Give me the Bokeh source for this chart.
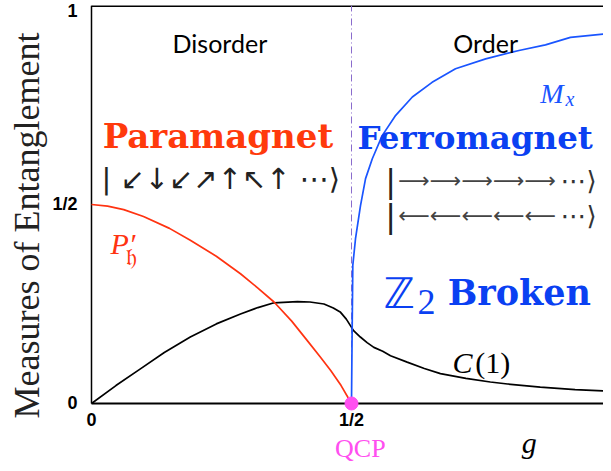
from bokeh.plotting import figure
from bokeh.models import FixedTicker, Label
from bokeh.embed import file_html
from bokeh.resources import INLINE

# ---- data ----
g_p = [0.0, 0.031, 0.062, 0.1, 0.15, 0.19, 0.24, 0.2865, 0.32, 0.351, 0.385, 0.415, 0.44,
       0.46, 0.48, 0.5]
p_h = [0.5, 0.496, 0.487, 0.47, 0.44, 0.41, 0.37, 0.326, 0.29, 0.255, 0.207, 0.158, 0.117,
       0.083, 0.045, 0.0]

g_m = [0.5, 0.501, 0.502, 0.5025, 0.5077, 0.5173, 0.527, 0.540, 0.559, 0.585, 0.617, 0.655,
       0.700, 0.758, 0.822, 0.873, 0.921, 1.0]
m_x = [0.0, 0.15, 0.28, 0.347, 0.414, 0.497, 0.565, 0.615, 0.673, 0.724, 0.770, 0.807,
       0.841, 0.866, 0.887, 0.901, 0.920, 0.930]

g_c = [0.0, 0.047, 0.094, 0.14, 0.19, 0.24, 0.2865, 0.32, 0.351, 0.396, 0.42, 0.447, 0.465,
       0.479, 0.49, 0.504, 0.517, 0.53, 0.543, 0.56, 0.575, 0.607, 0.64, 0.671, 0.72, 0.767,
       0.8, 0.863, 0.93, 1.0]
c_1 = [0.0, 0.045, 0.087, 0.128, 0.167, 0.200, 0.225, 0.241, 0.253, 0.256, 0.255, 0.250,
       0.240, 0.229, 0.212, 0.183, 0.167, 0.153, 0.141, 0.131, 0.120, 0.104, 0.088, 0.075,
       0.063, 0.054, 0.049, 0.041, 0.035, 0.031]

qcp_g = [0.5]
qcp_v = [0.0]

tick_vals = [0, 0.5, 1]
tick_labels = ["0", "1/2", "1"]

RED = "#ff3311"
BLUE = "#1a55ff"
TBLUE = "#0a40f2"
MAG = "#ff4ff0"

lo, hi = tick_vals[0], tick_vals[-1]

p = figure(width=603, height=463, x_range=(-0.01346, 0.9846), y_range=(-0.1508, 1),
           output_backend="svg", toolbar_location=None,
           min_border_left=84, min_border_right=0, min_border_top=5, min_border_bottom=0)
p.outline_line_color = None
p.xgrid.visible = False
p.ygrid.visible = False
p.background_fill_color = "white"
p.border_fill_color = "white"

overrides = {v: t for v, t in zip(tick_vals, tick_labels)}
for ax in (p.xaxis[0], p.yaxis[0]):
    ax.ticker = FixedTicker(ticks=tick_vals)
    ax.major_label_overrides = overrides
    ax.major_tick_in = 0
    ax.major_tick_out = 0
    ax.minor_tick_in = 0
    ax.minor_tick_out = 0
    ax.axis_line_color = None
    ax.major_label_text_font = "Liberation Sans"
    ax.major_label_text_font_style = "bold"
    ax.major_label_text_font_size = "18px"
    ax.major_label_text_color = "black"

p.xaxis.fixed_location = 0
p.xaxis.major_label_standoff = 7
p.yaxis.major_label_standoff = 7
p.yaxis.axis_label = "\u00a0\u00a0Measures of Entanglement"
p.yaxis.axis_label_text_font = "Liberation Serif"
p.yaxis.axis_label_text_font_style = "normal"
p.yaxis.axis_label_text_font_size = "36px"
p.yaxis.axis_label_text_color = "#222222"
p.yaxis.axis_label_standoff = 2

# frame lines (bottom, left, top) and the critical line at the QCP
p.segment(x0=[lo], y0=[lo], x1=[hi], y1=[lo], line_color="black", line_width=2)
p.segment(x0=[lo], y0=[lo], x1=[lo], y1=[hi], line_color="black", line_width=1.5)
p.segment(x0=[lo], y0=[hi], x1=[hi], y1=[hi], line_color="black", line_width=3)
p.segment(x0=qcp_g, y0=[lo], x1=qcp_g, y1=[hi], line_color="#8a6ccc", line_width=1,
          line_dash="7 3 1 3")

p.line(g_c, c_1, line_color="black", line_width=1.7)
p.line(g_p, p_h, line_color=RED, line_width=1.7)
p.line(g_m, m_x, line_color=BLUE, line_width=1.7)
p.scatter(qcp_g, qcp_v, size=13, color=MAG, line_color=MAG)


def lab(x, y, text, font="Liberation Serif", size=26, style="normal", color="black",
        align="left", baseline="alphabetic"):
    p.add_layout(Label(x=x, y=y, text=text, text_font=font, text_font_size=f"{size}px",
                       text_font_style=style, text_color=color, text_align=align,
                       text_baseline=baseline))


lab(0.247, 0.907, "Disorder", font="Lato", size=25, align="center")
lab(0.758, 0.907, "Order", font="Lato", size=25, align="center")

lab(0.243, 0.671, "Paramagnet", font="DejaVu Serif", size=34, style="bold", color="#ff3a0c",
    align="center")
lab(0.5115, 0.669, "Ferromagnet", font="DejaVu Serif", size=32.5, style="bold", color=TBLUE)

lab(0.0192, 0.563, "| ↙↓↙↗↑↖↑ ⋯⟩", font="DejaVu Sans", size=29, color="#222222",
    baseline="middle")

lab(0.565, 0.560, "|", font="DejaVu Sans", size=32, color="#222222", baseline="middle")
lab(0.590, 0.560, "⟶⟶⟶⟶⟶", font="DejaVu Sans", size=22, color="#444444",
    baseline="middle")
lab(0.902, 0.560, "⋯⟩", font="DejaVu Sans", size=26, color="#333333", baseline="middle")
lab(0.565, 0.472, "|", font="DejaVu Sans", size=32, color="#222222", baseline="middle")
lab(0.590, 0.472, "⟵⟵⟵⟵⟵", font="DejaVu Sans", size=22, color="#444444",
    baseline="middle")
lab(0.902, 0.472, "⋯⟩", font="DejaVu Sans", size=26, color="#333333", baseline="middle")

lab(0.0365, 0.402, "P′", size=30, style="italic", color=RED)
lab(0.0673, 0.369, "𝔥", font="DejaVu Sans", size=24, color=RED)

lab(0.863, 0.779, "M", size=28, style="italic", color=BLUE)
lab(0.9115, 0.764, "x", size=20, style="italic", color=BLUE)

lab(0.5615, 0.276, "ℤ", font="DejaVu Sans", size=42, color=TBLUE)
lab(0.627, 0.254, "2", size=36, color=TBLUE)
lab(0.685, 0.279, "Broken", font="DejaVu Serif", size=35, style="bold", color=TBLUE)

lab(0.694, 0.103, "C", size=30, style="italic", color="black")
lab(0.738, 0.103, "(1)", size=30, color="black")

lab(0.517, -0.112, "QCP", size=26, color=MAG, align="center")
lab(0.842, -0.097, "g", size=30, style="italic", color="black", align="center")

open("out.html", "w").write(file_html(p, INLINE))
